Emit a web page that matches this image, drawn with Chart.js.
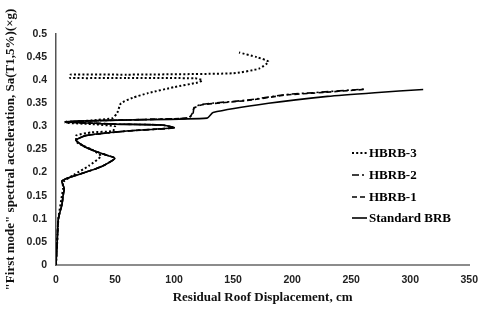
<!DOCTYPE html>
<html>
<head>
<meta charset="utf-8">
<script src="https://cdn.jsdelivr.net/npm/chart.js@4/dist/chart.umd.min.js"></script>
<style>
  html, body { margin: 0; padding: 0; background: #fff; }
  #wrap { width: 487px; height: 311px; }
</style>
</head>
<body>
<div id="wrap"><canvas id="c" width="487" height="311"></canvas></div>
<script>
// ---- data ----
const seriesNames = ["HBRB-3", "HBRB-2", "HBRB-1", "Standard BRB"];

const hbrb3X = [0, 1, 2, 5, 6, 6, 15, 28, 38, 30, 18, 17, 30, 48, 50, 30, 8, 30, 48, 52, 55, 65, 78, 100, 120, 124, 118, 60, 12, 12, 60, 150, 172, 180, 170, 155];
const hbrb3Y = [0, 0.05, 0.1, 0.15, 0.165, 0.18, 0.195, 0.215, 0.236, 0.25, 0.265, 0.28, 0.287, 0.29, 0.3, 0.305, 0.308, 0.313, 0.318, 0.33, 0.35, 0.362, 0.372, 0.385, 0.395, 0.4, 0.404, 0.405, 0.405, 0.412, 0.412, 0.415, 0.425, 0.44, 0.45, 0.46];

const hbrb2X = [0, 1, 2, 5, 6, 7, 5, 12, 30, 40, 50, 40, 25, 17, 25, 60, 100, 90, 50, 8, 60, 112, 116, 117, 124, 162, 195, 218, 262];
const hbrb2Y = [0, 0.05, 0.1, 0.13, 0.15, 0.165, 0.182, 0.19, 0.205, 0.215, 0.231, 0.24, 0.255, 0.27, 0.28, 0.29, 0.297, 0.303, 0.305, 0.31, 0.314, 0.318, 0.327, 0.341, 0.348, 0.357, 0.369, 0.373, 0.381];

const hbrb1X = [0, 1, 2, 5, 6, 7, 5, 12, 30, 40, 50, 40, 25, 17, 25, 60, 100, 90, 50, 8, 60, 112, 115, 117, 124, 162, 195, 218, 261];
const hbrb1Y = [0, 0.05, 0.1, 0.13, 0.15, 0.165, 0.182, 0.19, 0.205, 0.215, 0.231, 0.24, 0.255, 0.27, 0.28, 0.29, 0.297, 0.303, 0.305, 0.31, 0.314, 0.318, 0.326, 0.34, 0.347, 0.356, 0.368, 0.372, 0.38];

const standardX = [0, 1, 2, 5, 6, 7, 5, 12, 30, 40, 50, 40, 25, 17, 25, 60, 100, 90, 50, 8, 60, 128, 133, 180, 230, 270, 311];
const standardY = [0, 0.05, 0.1, 0.13, 0.15, 0.165, 0.182, 0.19, 0.205, 0.215, 0.231, 0.24, 0.255, 0.27, 0.28, 0.29, 0.297, 0.303, 0.305, 0.31, 0.314, 0.318, 0.33, 0.35, 0.365, 0.373, 0.38];

const xTicks = [0, 50, 100, 150, 200, 250, 300, 350];
const yTicks = [0, 0.05, 0.1, 0.15, 0.2, 0.25, 0.3, 0.35, 0.4, 0.45, 0.5];
const xTitle = "Residual Roof Displacement, cm";
const yTitle = "\"First mode\" spectral acceleration, Sa(T1,5%)(\u00D7g)";

function pts(xs, ys) { return xs.map((x, i) => ({ x: x, y: ys[i] })); }

const styles = [
  { borderDash: [2, 2.2], borderWidth: 2 },
  { borderDash: [7, 3, 2, 3], borderWidth: 1.6 },
  { borderDash: [5, 3], borderWidth: 1.6 },
  { borderDash: [], borderWidth: 1.6 }
];
const xsAll = [hbrb3X, hbrb2X, hbrb1X, standardX];
const ysAll = [hbrb3Y, hbrb2Y, hbrb1Y, standardY];

const datasets = seriesNames.map((n, i) => ({
  label: n,
  data: pts(xsAll[i], ysAll[i]),
  borderColor: '#000',
  backgroundColor: '#000',
  borderWidth: styles[i].borderWidth,
  borderDash: styles[i].borderDash,
  pointRadius: 0,
  tension: 0.18,
  fill: false,
  showLine: true
}));

const legendPlugin = {
  id: 'customLegend',
  afterDraw(chart) {
    const ctx = chart.ctx;
    const ys = [153, 175, 197, 218];
    ctx.save();
    chart.data.datasets.forEach((ds, i) => {
      ctx.strokeStyle = '#000';
      ctx.lineWidth = ds.borderWidth;
      ctx.setLineDash(ds.borderDash || []);
      ctx.beginPath();
      ctx.moveTo(352, ys[i]);
      ctx.lineTo(367, ys[i]);
      ctx.stroke();
      ctx.setLineDash([]);
      ctx.fillStyle = '#000';
      ctx.font = 'bold 13px "Liberation Serif", "Times New Roman", serif';
      ctx.textBaseline = 'middle';
      ctx.textAlign = 'left';
      ctx.fillText(ds.label, 369, ys[i] + 1);
    });
    ctx.restore();
  }
};

new Chart(document.getElementById('c'), {
  type: 'scatter',
  data: { datasets: datasets },
  options: {
    responsive: false,
    animation: false,
    devicePixelRatio: 1,
    layout: { padding: { top: 34, right: 7, left: 0, bottom: 0 } },
    plugins: { legend: { display: false }, tooltip: { enabled: false } },
    scales: {
      x: {
        type: 'linear',
        min: 0, max: 350,
        afterBuildTicks: (s) => { s.ticks = xTicks.map(v => ({ value: v })); },
        afterFit: (s) => { s.height = 46; },
        grid: { display: false, drawTicks: false },
        border: { display: true, color: '#8c8c8c', width: 2 },
        ticks: {
          padding: 9,
          color: '#222',
          font: { family: '"Liberation Sans", Arial, sans-serif', size: 10.5, weight: 'bold' },
          callback: (v) => String(v)
        },
        title: {
          display: true,
          text: xTitle,
          color: '#111',
          font: { family: '"Liberation Serif", "Times New Roman", serif', size: 13, weight: 'bold' },
          padding: { top: 0, bottom: 6 }
        }
      },
      y: {
        type: 'linear',
        min: 0, max: 0.5,
        afterBuildTicks: (s) => { s.ticks = yTicks.map(v => ({ value: v })); },
        afterFit: (s) => { s.width = 56; },
        grid: { display: false, drawTicks: false },
        border: { display: true, color: '#555', width: 1.5 },
        ticks: {
          padding: 9,
          color: '#222',
          font: { family: '"Liberation Sans", Arial, sans-serif', size: 10.5, weight: 'bold' },
          callback: (v) => String(parseFloat(v.toFixed(2)))
        },
        title: {
          display: true,
          text: yTitle,
          color: '#111',
          font: { family: '"Liberation Serif", "Times New Roman", serif', size: 13, weight: 'bold' },
          padding: { top: 3, bottom: 0 }
        }
      }
    }
  },
  plugins: [legendPlugin]
});
</script>
</body>
</html>
